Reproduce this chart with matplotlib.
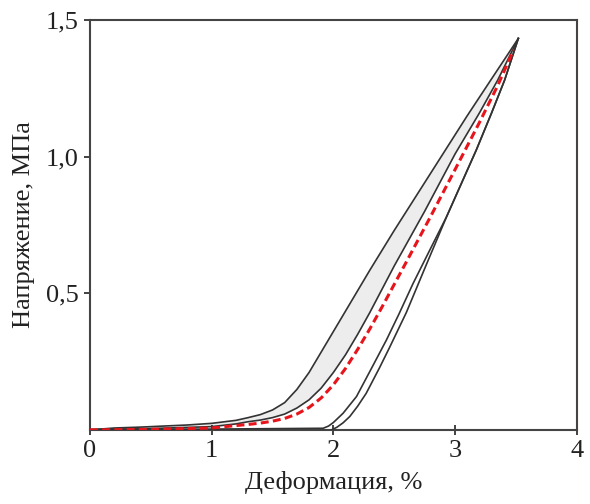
import matplotlib
matplotlib.use("Agg")
import matplotlib.pyplot as plt

# Петля 1: нагружение (верхняя кривая)
x_load1 = [0.0, 0.2, 0.4, 0.8, 1.0, 1.2, 1.3, 1.4, 1.5, 1.6, 1.7, 1.8, 1.9, 2.0, 2.1, 2.3, 2.5, 2.7, 2.9, 3.1, 3.3, 3.52]
y_load1 = [0.0, 0.007, 0.01, 0.018, 0.024, 0.035, 0.045, 0.056, 0.073, 0.1, 0.148, 0.21, 0.285, 0.36, 0.435, 0.585, 0.73, 0.87, 1.01, 1.15, 1.285, 1.433]

# Петля 1: разгрузка (нижняя граница заливки)
x_unl1 = [0.0, 0.5, 1.0, 1.2, 1.3, 1.4, 1.5, 1.6, 1.7, 1.8, 1.9, 2.0, 2.1, 2.2, 2.3, 2.5, 2.75, 3.0, 3.2, 3.35, 3.52]
y_unl1 = [0.0, 0.005, 0.012, 0.022, 0.03, 0.036, 0.045, 0.058, 0.08, 0.11, 0.153, 0.21, 0.275, 0.35, 0.43, 0.6, 0.8, 1.01, 1.16, 1.28, 1.433]

# Модельная кривая (красный пунктир)
x_model = [0.0, 0.5, 1.0, 1.2, 1.3, 1.4, 1.5, 1.6, 1.7, 1.8, 1.9, 2.0, 2.1, 2.2, 2.3, 2.4, 2.6, 2.8, 3.0, 3.2, 3.35, 3.48]
y_model = [0.0, 0.002, 0.007, 0.016, 0.02, 0.025, 0.032, 0.042, 0.058, 0.082, 0.117, 0.165, 0.225, 0.295, 0.37, 0.45, 0.615, 0.782, 0.953, 1.125, 1.26, 1.39]

# Петля 2: левая кривая
x_left2 = [0.0, 1.0, 1.916, 1.96, 2.0, 2.08, 2.19, 2.326, 2.436, 2.54, 2.654, 2.8, 2.93, 3.05, 3.175, 3.3, 3.407, 3.52]
y_left2 = [0.002, 0.003, 0.006, 0.014, 0.027, 0.061, 0.122, 0.236, 0.329, 0.425, 0.535, 0.665, 0.78, 0.9, 1.025, 1.16, 1.28, 1.433]

# Петля 2: правая кривая
x_right2 = [1.985, 2.03, 2.08, 2.135, 2.2, 2.27, 2.38, 2.46, 2.6, 2.75, 2.93, 3.05, 3.175, 3.3, 3.407, 3.52]
y_right2 = [0.0, 0.01, 0.026, 0.049, 0.087, 0.134, 0.228, 0.3, 0.43, 0.59, 0.78, 0.9, 1.025, 1.16, 1.28, 1.433]

x_ticks = [0, 1, 2, 3, 4]
x_tick_labels = ["0", "1", "2", "3", "4"]
y_ticks = [0.5, 1.0, 1.5]
y_tick_labels = ["0,5", "1,0", "1,5"]

plt.rcParams['font.family'] = ['Liberation Serif', 'DejaVu Serif']

fig = plt.figure(figsize=(5.9, 5.04), dpi=100)
ax = fig.add_axes([0.1525, 0.147, 0.825, 0.813])

line_c = "#333333"
ax.fill(x_load1 + x_unl1[::-1], y_load1 + y_unl1[::-1], color="#ededed", lw=0, zorder=1)
ax.plot(x_load1, y_load1, color=line_c, lw=1.2, zorder=3)
ax.plot(x_unl1, y_unl1, color=line_c, lw=1.2, zorder=3)
ax.plot(x_left2, y_left2, color=line_c, lw=1.2, zorder=3)
ax.plot(x_right2, y_right2, color=line_c, lw=1.2, zorder=3)
ax.plot(x_model, y_model, color="#e8141c", lw=2.2, linestyle=(0, (2.6, 1.4)), zorder=4)

ax.set_xlim(0, 4)
ax.set_ylim(0, 1.5)
ax.set_xticks(x_ticks)
ax.set_xticklabels(x_tick_labels)
ax.set_yticks(y_ticks)
ax.set_yticklabels(y_tick_labels)
ax.tick_params(axis='x', direction='inout', length=7, width=1.2, labelsize=19, pad=4, colors="#222222")
ax.tick_params(axis='y', direction='out', length=4, width=1.2, labelsize=19, pad=4, colors="#222222")
for s in ax.spines.values():
    s.set_color("#444444")
    s.set_linewidth(1.5)

ax.set_xlabel("Деформация, %", fontsize=19, color="#222222", labelpad=6)
ax.set_ylabel("Напряжение, МПа", fontsize=19, color="#222222", labelpad=8)

fig.savefig("out.png", dpi=100)
